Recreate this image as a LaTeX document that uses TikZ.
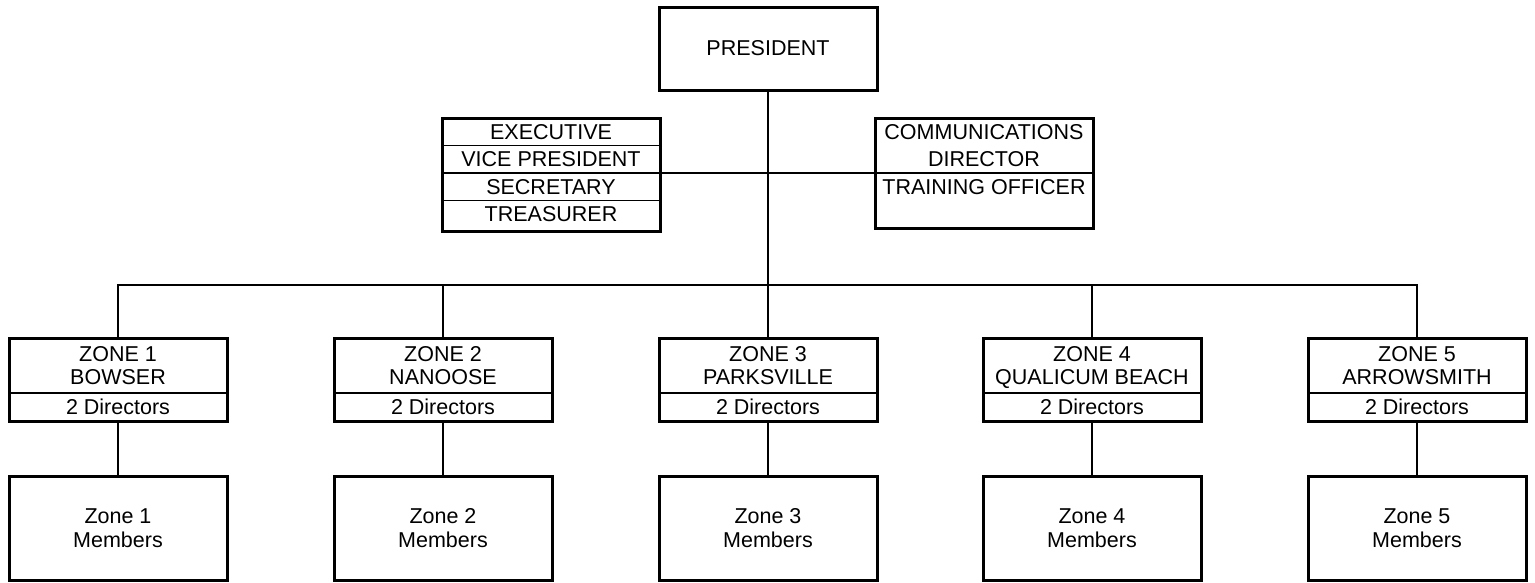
\documentclass[tikz,border=0pt]{standalone}
\usepackage{fontspec}
\setmainfont{Liberation Sans}
\usetikzlibrary{positioning}
\tikzstyle{frame}=[draw=black, line width=3pt]
\tikzstyle{cell}=[minimum width=218pt, inner sep=0pt, outer sep=0pt, align=center, font=\fontsize{21.5}{27}\selectfont]
\tikzstyle{ruled}=[cell, draw=black, line width=1.3pt]
\tikzstyle{zcell}=[cell, text depth=-5pt, font=\fontsize{21.5}{23}\selectfont]
\tikzstyle{bigbox}=[frame, minimum width=218pt, inner sep=0pt, outer sep=0pt, align=center, font=\fontsize{21.5}{24}\selectfont]
\tikzstyle{link}=[black, line width=2.5pt]

\begin{document}
\begin{tikzpicture}[x=1pt, y=-1pt]
          \useasboundingbox (0,0) rectangle (1535,582);
          \node[bigbox, minimum height=83pt] (pres) at (768,48.5){PRESIDENT};
          \node[ruled, minimum height=27.5pt] (ex1) at (551,131.75){EXECUTIVE};
          \node[ruled, minimum height=27.5pt, below=0pt of ex1] (ex2){VICE PRESIDENT};
          \node[ruled, minimum height=27.5pt, below=0pt of ex2] (ex3){SECRETARY};
          \node[cell, minimum height=27.5pt, below=0pt of ex3] (ex4){TREASURER};
          \draw[frame] (ex1.north west) rectangle ([yshift=-3pt]ex4.south east);
          \node[ruled, minimum height=55pt] (cm1) at (984,145.5){COMMUNICATIONS\\DIRECTOR};
          \node[cell, minimum height=27.5pt, below=0pt of cm1] (cm2){TRAINING OFFICER};
          \draw[frame] (cm1.north west) rectangle ([yshift=-28pt]cm2.south east);
          \draw[link] (ex3.north east) -- (cm2.north west);
          \node[zcell, draw=black, line width=1.3pt, minimum height=55pt] (zh1) at (118,365.5){ZONE 1\\BOWSER};
          \node[cell, minimum height=28pt, below=0pt of zh1] (zd1){2 Directors};
          \draw[frame] (zh1.north west) rectangle (zd1.south east);
          \node[bigbox, minimum height=104pt, below=55pt of zd1] (m1){Zone 1\\Members};
          \node[zcell, draw=black, line width=1.3pt, minimum height=55pt] (zh2) at (443,365.5){ZONE 2\\NANOOSE};
          \node[cell, minimum height=28pt, below=0pt of zh2] (zd2){2 Directors};
          \draw[frame] (zh2.north west) rectangle (zd2.south east);
          \node[bigbox, minimum height=104pt, below=55pt of zd2] (m2){Zone 2\\Members};
          \node[zcell, draw=black, line width=1.3pt, minimum height=55pt] (zh3) at (768,365.5){ZONE 3\\PARKSVILLE};
          \node[cell, minimum height=28pt, below=0pt of zh3] (zd3){2 Directors};
          \draw[frame] (zh3.north west) rectangle (zd3.south east);
          \node[bigbox, minimum height=104pt, below=55pt of zd3] (m3){Zone 3\\Members};
          \node[zcell, draw=black, line width=1.3pt, minimum height=55pt] (zh4) at (1092,365.5){ZONE 4\\QUALICUM BEACH};
          \node[cell, minimum height=28pt, below=0pt of zh4] (zd4){2 Directors};
          \draw[frame] (zh4.north west) rectangle (zd4.south east);
          \node[bigbox, minimum height=104pt, below=55pt of zd4] (m4){Zone 4\\Members};
          \node[zcell, draw=black, line width=1.3pt, minimum height=55pt] (zh5) at (1417,365.5){ZONE 5\\ARROWSMITH};
          \node[cell, minimum height=28pt, below=0pt of zh5] (zd5){2 Directors};
          \draw[frame] (zh5.north west) rectangle (zd5.south east);
          \node[bigbox, minimum height=104pt, below=55pt of zd5] (m5){Zone 5\\Members};
          \coordinate (bus) at (768,285);
          \draw[link] (pres.south) -- (bus);
          \draw[link] (zh1.north) |- (bus) -| (zh5.north);
          \draw[link] (zh2.north) -- (zh2.north |- bus);
          \draw[link] (zh3.north) -- (bus);
          \draw[link] (zh4.north) -- (zh4.north |- bus);
          \draw[link] (zd1.south) -- (m1.north);
          \draw[link] (zd2.south) -- (m2.north);
          \draw[link] (zd3.south) -- (m3.north);
          \draw[link] (zd4.south) -- (m4.north);
          \draw[link] (zd5.south) -- (m5.north);
        \end{tikzpicture}
\end{document}
